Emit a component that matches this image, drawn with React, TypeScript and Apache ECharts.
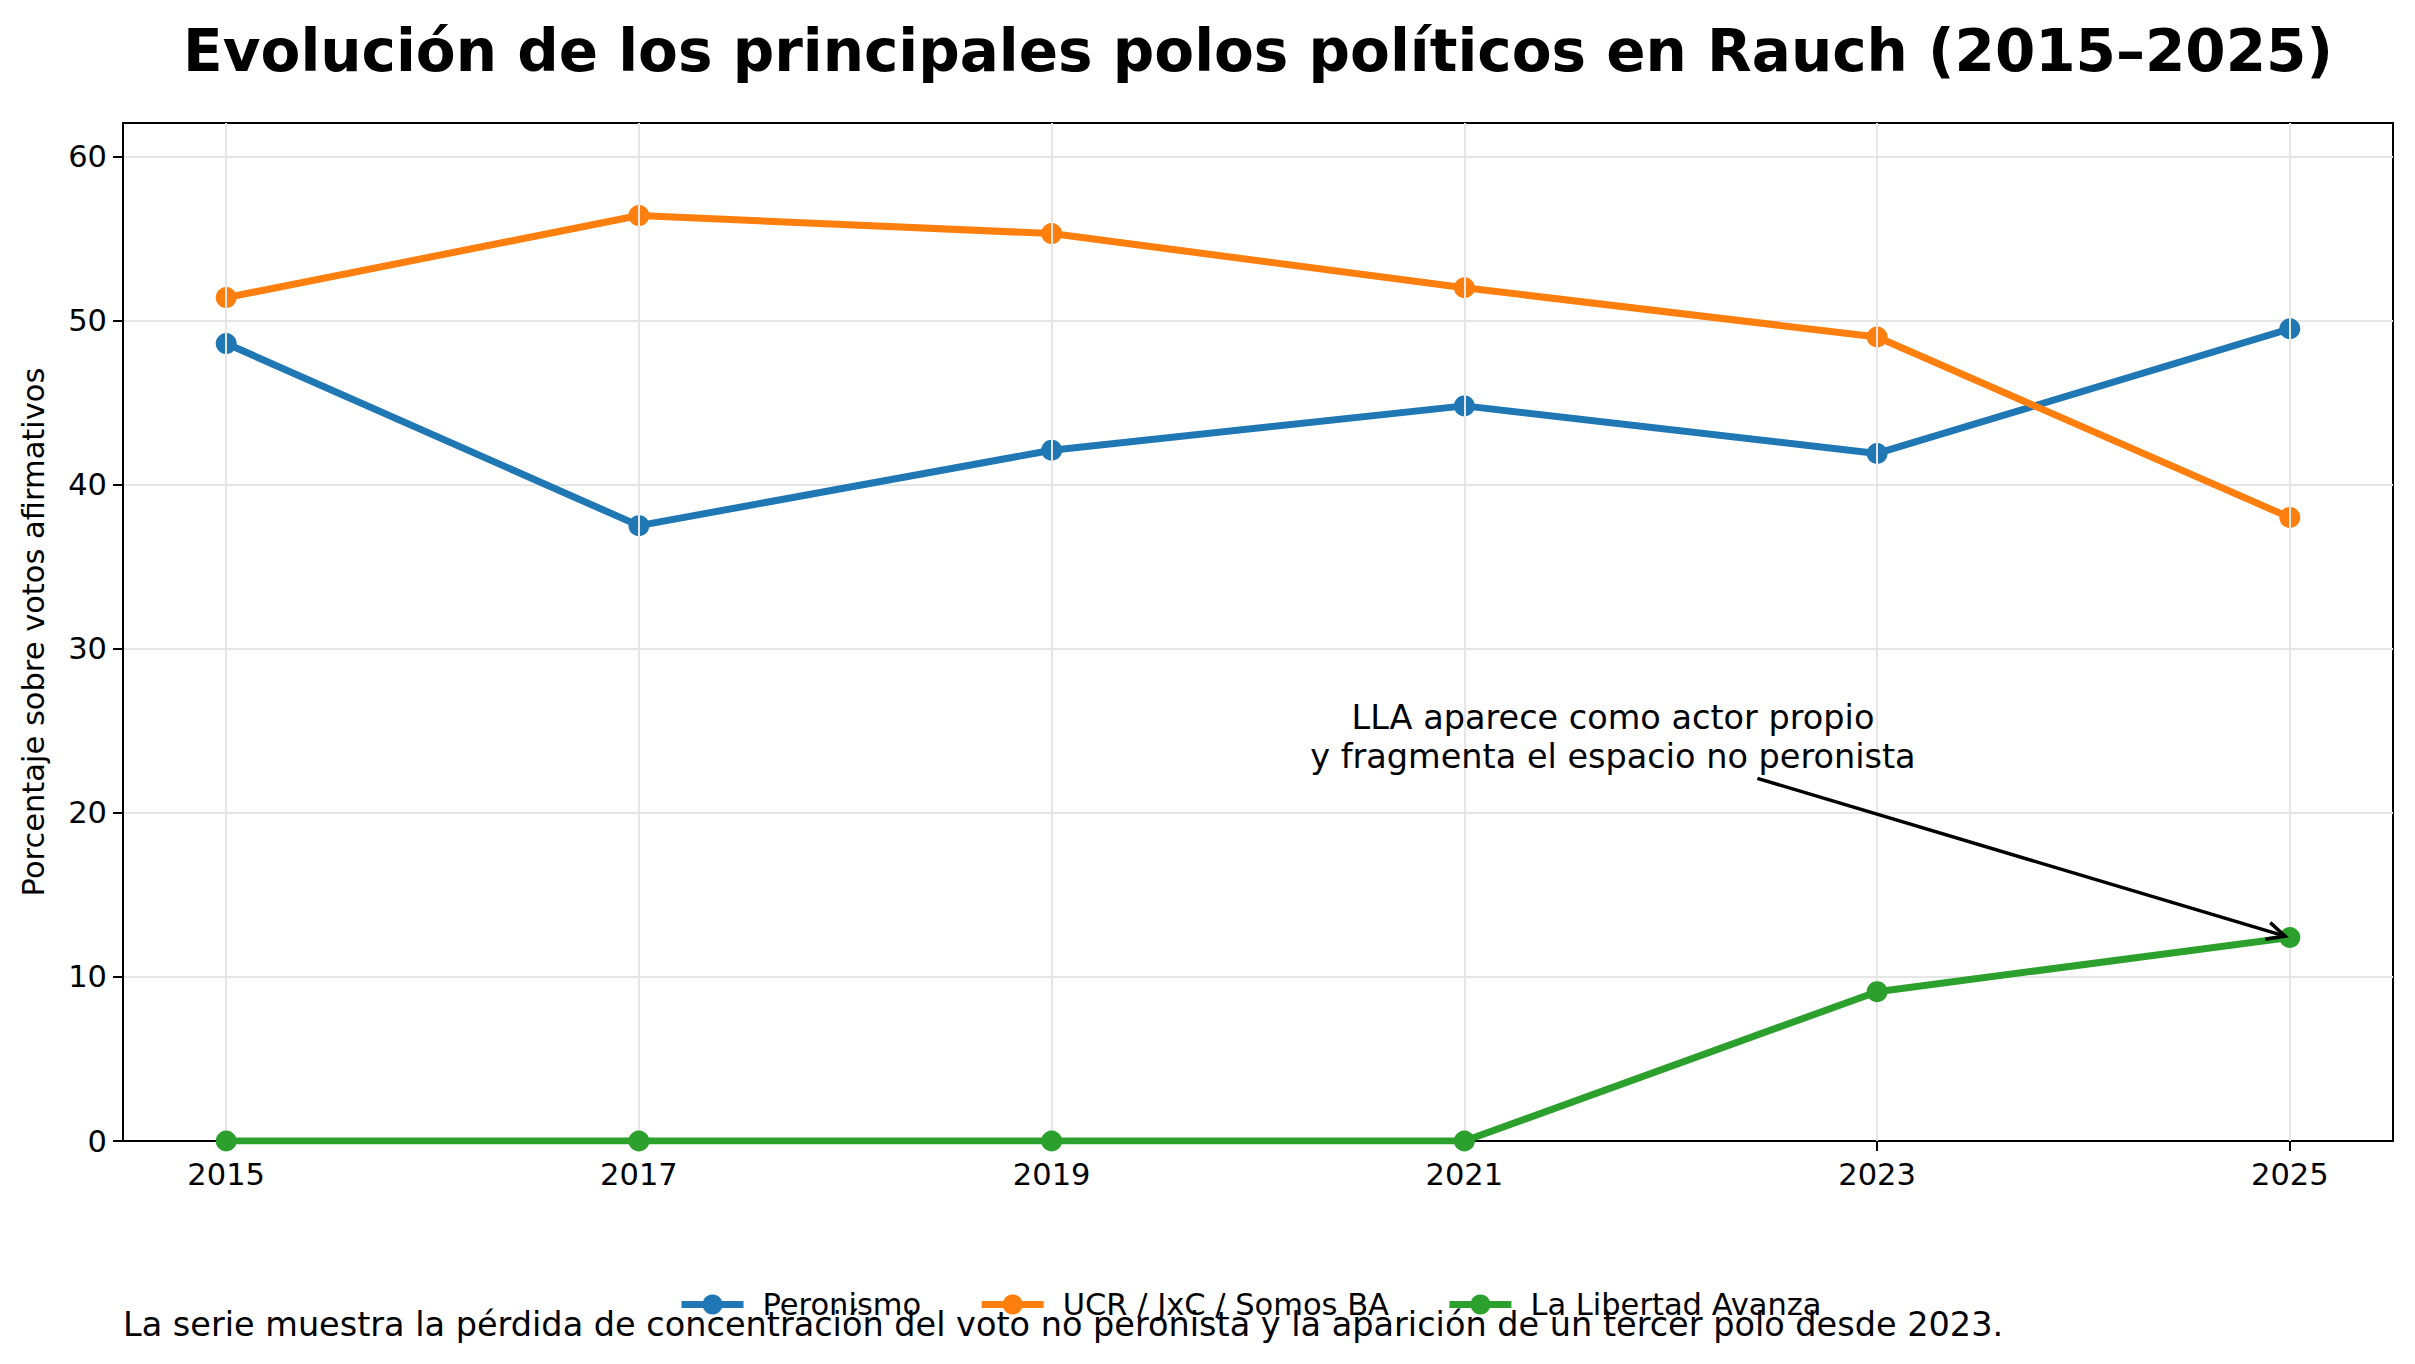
import React, { useEffect, useRef } from "react";
import * as echarts from "echarts";

const YEARS = [2015, 2017, 2019, 2021, 2023, 2025];
const PERONISMO = [48.6, 37.5, 42.1, 44.8, 41.9, 49.5];
const UCR = [51.4, 56.4, 55.3, 52.0, 49.0, 38.0];
const LLA = [0, 0, 0, 0, 9.1, 12.4];
const Y_TICKS = [0, 10, 20, 30, 40, 50, 60];
const SERIES_NAMES = ["Peronismo", "UCR / JxC / Somos BA", "La Libertad Avanza"];
const COLORS = ["#1f77b4", "#ff7f0e", "#2ca02c"];
const TITLE = "Evolución de los principales polos políticos en Rauch (2015–2025)";
const Y_NAME = "Porcentaje sobre votos afirmativos";
const FOOTER =
  "La serie muestra la pérdida de concentración del voto no peronista y la aparición de un tercer polo desde 2023.";
const ANNOT_TEXT = "LLA aparece como actor propio\ny fragmenta el espacio no peronista";
const ANNOT_POS = [2021.72, 24.6];
const ARROW_FROM = [2022.42, 22.1];
const ARROW_TO = [2025, 12.4];

const FONT = "DejaVu Sans";
const W = 2415;
const H = 1364;
const GRID = { left: 123, top: 123, width: 2270, height: 1018 };

export default function App() {
  const ref = useRef<HTMLDivElement>(null);
  useEffect(() => {
    document.body.style.margin = "0";
    const chart = echarts.init(ref.current!, null, { renderer: "svg" });
    const data = [PERONISMO, UCR, LLA];
    const option: any = {
      animation: false,
      backgroundColor: "#fff",
      textStyle: { fontFamily: FONT },
      grid: { ...GRID, show: true, borderColor: "#000", borderWidth: 2, backgroundColor: "transparent", containLabel: false },
      legend: {
        left: 678,
        top: 1289,
        padding: 0,
        itemWidth: 62,
        itemHeight: 25,
        itemGap: 57,
        lineStyle: { width: 7 },
        textStyle: { fontFamily: FONT, fontSize: 30.5, color: "#000", padding: [0, 0, 0, 14] },
        data: SERIES_NAMES,
      },
      xAxis: {
        type: "value",
        min: 2014.5,
        max: 2025.5,
        axisLine: { show: true, lineStyle: { color: "#000", width: 2 } },
        splitLine: { show: false },
        axisTick: { show: true, length: 10, customValues: YEARS, lineStyle: { color: "#000", width: 2 } },
        axisLabel: {
          customValues: YEARS,
          fontFamily: FONT,
          fontSize: 30.5,
          color: "#000",
          margin: 18,
          formatter: (v: number) => String(v),
        },
      },
      yAxis: {
        type: "value",
        min: 0,
        max: 62.04,
        interval: 10,
        name: Y_NAME,
        nameLocation: "middle",
        nameGap: 74,
        nameTextStyle: { fontFamily: FONT, fontSize: 30.5, color: "#000" },
        axisLine: { show: true, lineStyle: { color: "#000", width: 2 } },
        splitLine: { show: true, lineStyle: { color: "#e6e6e6", width: 2 } },
        axisTick: { show: true, length: 10, customValues: Y_TICKS, lineStyle: { color: "#000", width: 2 } },
        axisLabel: {
          customValues: Y_TICKS,
          fontFamily: FONT,
          fontSize: 30.5,
          color: "#000",
          margin: 16,
        },
      },
      series: [
        {
          type: "line",
          name: "_grid",
          data: [],
          z: 1,
          silent: true,
          markLine: {
            silent: true,
            symbol: "none",
            label: { show: false },
            lineStyle: { color: "#e6e6e6", width: 2, type: "solid" },
            data: YEARS.map((y) => ({ xAxis: y })),
          },
        },
        ...SERIES_NAMES.map((name, i) => ({
          type: "line",
          name,
          z: 3 + i,
          data: YEARS.map((y, j) => [y, data[i][j]]),
          symbol: "circle",
          symbolSize: 21,
          showSymbol: true,
          color: COLORS[i],
          lineStyle: { color: COLORS[i], width: 7 },
          itemStyle: { color: COLORS[i] },
          clip: true,
        })),
      ],
    };
    chart.setOption(option);

    const p = (v: number[]) => chart.convertToPixel({ gridIndex: 0 }, v) as number[];
    const t = p(ANNOT_POS);
    const a0 = p(ARROW_FROM);
    const a1raw = p(ARROW_TO);
    const dx = a1raw[0] - a0[0];
    const dy = a1raw[1] - a0[1];
    const len = Math.sqrt(dx * dx + dy * dy);
    const ux = dx / len;
    const uy = dy / len;
    const a1 = [a1raw[0] - ux * 5, a1raw[1] - uy * 5];
    const head = 20;
    const ang = Math.PI / 7;
    const rot = (x: number, y: number, a: number) => [x * Math.cos(a) - y * Math.sin(a), x * Math.sin(a) + y * Math.cos(a)];
    const h1 = rot(-ux, -uy, ang);
    const h2 = rot(-ux, -uy, -ang);

    chart.setOption({
      graphic: [
        {
          type: "text",
          x: GRID.left + GRID.width / 2,
          y: 51,
          style: {
            text: TITLE,
            fontFamily: FONT,
            fontSize: 58,
            fontWeight: "bold",
            fill: "#000",
            textAlign: "center",
            textVerticalAlign: "middle",
          },
        },
        {
          type: "text",
          x: t[0],
          y: t[1],
          z: 10,
          style: {
            text: ANNOT_TEXT,
            fontFamily: FONT,
            fontSize: 33.5,
            lineHeight: 39,
            fill: "#000",
            textAlign: "center",
            textVerticalAlign: "middle",
          },
        },
        {
          type: "line",
          z: 10,
          shape: { x1: a0[0], y1: a0[1], x2: a1[0], y2: a1[1] },
          style: { stroke: "#000", lineWidth: 3.5 },
        },
        {
          type: "polyline",
          z: 10,
          shape: {
            points: [
              [a1[0] + h1[0] * head, a1[1] + h1[1] * head],
              [a1[0], a1[1]],
              [a1[0] + h2[0] * head, a1[1] + h2[1] * head],
            ],
          },
          style: { stroke: "#000", lineWidth: 3.5, fill: "none" },
        },
        {
          type: "text",
          x: 123,
          y: 1324,
          z: 10,
          style: {
            text: FOOTER,
            fontFamily: FONT,
            fontSize: 33.5,
            fill: "#000",
            textAlign: "left",
            textVerticalAlign: "middle",
          },
        },
      ],
    });
    return () => chart.dispose();
  }, []);
  return <div ref={ref} style={{ width: W, height: H }} />;
}
